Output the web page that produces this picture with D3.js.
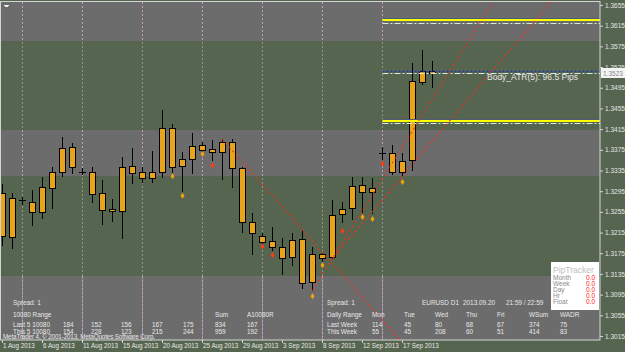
<!DOCTYPE html>
<html>
<head>
<meta charset="utf-8">
<script src="https://cdn.jsdelivr.net/npm/d3@7"></script>
<style>
  body { margin: 0; background: #56654f; }
  svg { display: block; }
  text { font-family: "Liberation Sans", Arial, sans-serif; }
</style>
</head>
<body>
<svg id="chart"></svg>
<script>
// EURUSD D1 bars, 1 Aug 2013 - 20 Sep 2013 (Sunday bars included)
var barDates = ['2013-08-01','2013-08-02','2013-08-04','2013-08-05','2013-08-06','2013-08-07','2013-08-08','2013-08-09',
  '2013-08-11','2013-08-12','2013-08-13','2013-08-14','2013-08-15','2013-08-16',
  '2013-08-18','2013-08-19','2013-08-20','2013-08-21','2013-08-22','2013-08-23',
  '2013-08-25','2013-08-26','2013-08-27','2013-08-28','2013-08-29','2013-08-30',
  '2013-09-01','2013-09-02','2013-09-03','2013-09-04','2013-09-05','2013-09-06',
  '2013-09-08','2013-09-09','2013-09-10','2013-09-11','2013-09-12','2013-09-13',
  '2013-09-15','2013-09-16','2013-09-17','2013-09-18','2013-09-19','2013-09-20'];
var opens  = [1.3291,1.3207,1.3278,1.3275,1.3255,1.3302,1.3333,1.3380,1.3333,1.3333,1.3291,1.3260,1.3256,1.3343,1.3333,1.3321,1.3333,1.3417,1.3344,1.3358,1.3375,1.3376,
              1.3371,1.3391,1.3339,1.3235,1.3208,1.3198,1.3187,1.3167,1.3202,1.3119,1.3173,1.3167,1.3250,1.3262,1.3306,1.3294,1.3369,1.3368,1.3333,1.3355,1.3507,1.3528];
var highs  = [1.3309,1.3292,1.3284,1.3297,1.3322,1.3342,1.3400,1.3389,1.3339,1.3341,1.3317,1.3279,1.3362,1.3378,1.3341,1.3373,1.3452,1.3425,1.3371,1.3408,1.3390,1.3394,
              1.3395,1.3396,1.3342,1.3252,1.3214,1.3226,1.3204,1.3215,1.3219,1.3187,1.3177,1.3278,1.3274,1.3323,1.3323,1.3320,1.3380,1.3384,1.3368,1.3542,1.3568,1.3547];
var lows   = [1.3190,1.3185,1.3270,1.3230,1.3244,1.3262,1.3325,1.3330,1.3328,1.3275,1.3231,1.3237,1.3204,1.3310,1.3313,1.3313,1.3322,1.3333,1.3296,1.3331,1.3371,1.3355,
              1.3319,1.3304,1.3217,1.3173,1.3193,1.3181,1.3135,1.3152,1.3107,1.3103,1.3160,1.3165,1.3236,1.3241,1.3255,1.3252,1.3357,1.3328,1.3326,1.3336,1.3502,1.3496];
var closes = [1.3208,1.3281,1.3277,1.3254,1.3304,1.3333,1.3378,1.3342,1.3332,1.3289,1.3259,1.3256,1.3342,1.3331,1.3320,1.3333,1.3417,1.3342,1.3357,1.3382,1.3385,1.3371,
              1.3390,1.3339,1.3235,1.3214,1.3197,1.3187,1.3165,1.3200,1.3117,1.3173,1.3166,1.3249,1.3261,1.3305,1.3294,1.3301,1.3368,1.3333,1.3354,1.3508,1.3527,1.3523];

// signal markers under bars ('a' = orange, 'b' = red)
var markerBars   = [17, 18, 20, 21, 26, 27, 31, 32, 34, 36, 37, 38, 40];
var markerPrices = [1.3324,1.3286,1.3367,1.3345,1.3188,1.3171,1.3092,1.3152,1.3218,1.3245,1.3241,1.3348,1.3313];
var markerKinds  = ['a','a','a','b','b','b','a','a','b','a','a','b','a'];

// grey range zones (price top / bottom)
var zoneTops    = [1.3661, 1.3413, 1.3131];
var zoneBottoms = [1.3585, 1.3324, 1.3007];

// price axis ticks
var priceTicks = [1.3655,1.3615,1.3575,1.3535,1.3495,1.3455,1.3415,1.3375,1.3335,1.3295,1.3255,1.3215,1.3175,1.3135,1.3095,1.3055,1.3015];
var dateTickBars = [0, 4, 8, 12, 16, 20, 24, 28, 32, 36, 40];
var dateTickLabels = ['1 Aug 2013','6 Aug 2013','11 Aug 2013','15 Aug 2013','20 Aug 2013','25 Aug 2013','29 Aug 2013','3 Sep 2013','8 Sep 2013','12 Sep 2013','17 Sep 2013'];

// weekly levels drawn from the start of the current week
var levelStartBar = 38;
var yellowLevels = [1.3626, 1.3431];
var dashDotLevels = [1.3620, 1.3523, 1.3426];
var blueLevels = [1.3527];
var bidPrice = 1.3523;
var atrText = 'Body_ATR(5): 96.5 Pips';

// red trendlines, [bar, price] -> [bar, price], extended as rays
var trendStarts = [[22, 1.3395], [31, 1.3103], [33, 1.3165]];
var trendEnds   = [[40, 1.3002], [43, 1.3474], [43, 1.3392]];

// info panel
var weekLast = ['184','152','156','167','175'];
var weekThis = ['154','228','123','215','244'];
var weekSum = ['834','959'];
var weekAvg = ['167','192'];
var dayHeads = ['Mon','Tue','Wed','Thu','Fri','WSum','WADR'];
var dayLast = ['114','45','80','68','67','374','75'];
var dayThis = ['55','45','208','60','51','414','83'];
var pipRows = ['Month','Week','Day','Hr','Float'];
var pipVals = ['0.0','0.0','0.0','0.0','0.0'];

var W = 625, H = 352;
var plot = { left: 1, top: 2, right: 600, bottom: 340 };
var FONT = '"Liberation Sans", Arial, sans-serif';

var svg = d3.select('#chart').attr('width', W).attr('height', H);

var x = d3.scaleLinear().domain([0, 43]).range([2.5, 432.5]);
var y = d3.scaleLinear().domain([1.3015, 1.3655]).range([336, 5]);
var py = function (p) { return Math.round(y(p)) + 0.5; };

svg.append('rect').attr('width', W).attr('height', H).attr('fill', '#56654f');

svg.append('clipPath').attr('id', 'plotClip')
  .append('rect').attr('x', plot.left).attr('y', plot.top)
  .attr('width', plot.right - plot.left).attr('height', plot.bottom - plot.top);

var g = svg.append('g').attr('clip-path', 'url(#plotClip)');

// grey zones
var zones = zoneTops.map(function (t, i) { return { top: t, bottom: zoneBottoms[i] }; });
g.selectAll('.zone').data(zones).enter().append('rect')
  .attr('x', plot.left).attr('width', plot.right - plot.left)
  .attr('y', function (d) { return Math.round(y(d.top)); })
  .attr('height', function (d) { return Math.round(y(d.bottom)) - Math.round(y(d.top)); })
  .attr('fill', '#6c6c6c');

// weekly separators on Sunday bars
var sundays = d3.range(barDates.length).filter(function (i) { return new Date(barDates[i] + 'T00:00:00Z').getUTCDay() === 0; });
g.selectAll('.sep').data(sundays).enter().append('line')
  .attr('x1', function (i) { return x(i); }).attr('x2', function (i) { return x(i); })
  .attr('y1', plot.top).attr('y2', plot.bottom)
  .attr('stroke', '#8e9289').attr('stroke-dasharray', '2,2');
sundays.forEach(function (i) {
  zones.forEach(function (z) {
    g.append('line')
      .attr('x1', x(i)).attr('x2', x(i))
      .attr('y1', Math.round(y(z.top))).attr('y2', Math.round(y(z.bottom)))
      .attr('stroke', '#c69ac6').attr('stroke-dasharray', '2,2');
  });
});

// candles
var bars = d3.range(barDates.length).map(function (i) {
  return { i: i, o: opens[i], h: highs[i], l: lows[i], c: closes[i] };
});
var candle = g.selectAll('.bar').data(bars).enter().append('g').attr('class', 'bar');
candle.append('line')
  .attr('x1', function (d) { return x(d.i); }).attr('x2', function (d) { return x(d.i); })
  .attr('y1', function (d) { return Math.round(y(d.h)); })
  .attr('y2', function (d) { return Math.round(y(d.l)) + 1; })
  .attr('stroke', '#000');
candle.each(function (d) {
  var top = Math.round(y(Math.max(d.o, d.c)));
  var bot = Math.round(y(Math.min(d.o, d.c)));
  var sel = d3.select(this);
  if (bot - top < 2) {
    sel.append('line')
      .attr('x1', x(d.i) - 3.5).attr('x2', x(d.i) + 3.5)
      .attr('y1', top + 0.5).attr('y2', top + 0.5)
      .attr('stroke', '#000');
  } else {
    sel.append('rect')
      .attr('x', x(d.i) - 3).attr('width', 6)
      .attr('y', top + 0.5).attr('height', bot - top)
      .attr('fill', '#e8a51c').attr('stroke', '#000');
  }
});

// levels
var lx0 = x(levelStartBar);
yellowLevels.forEach(function (p) {
  g.append('line').attr('x1', lx0).attr('x2', plot.right)
    .attr('y1', py(p) - 2).attr('y2', py(p) - 2).attr('stroke', '#4e5a7c');
  g.append('line').attr('x1', lx0).attr('x2', plot.right)
    .attr('y1', py(p) - 0.5).attr('y2', py(p) - 0.5).attr('stroke', '#ffff00').attr('stroke-width', 2);
});
blueLevels.forEach(function (p) {
  g.append('line').attr('x1', lx0).attr('x2', plot.right)
    .attr('y1', py(p)).attr('y2', py(p))
    .attr('stroke', '#2838b0').attr('stroke-width', 1.5).attr('stroke-dasharray', '2,2');
});
dashDotLevels.forEach(function (p) {
  g.append('line').attr('x1', lx0).attr('x2', plot.right)
    .attr('y1', py(p)).attr('y2', py(p))
    .attr('stroke', '#d6ead6').attr('stroke-dasharray', '6,2,2,2');
});

// trendlines as rays
trendStarts.forEach(function (s, k) {
  var e = trendEnds[k];
  var x1 = x(s[0]), y1 = y(s[1]), x2 = x(e[0]), y2 = y(e[1]);
  var t = 8;
  g.append('line')
    .attr('x1', x1).attr('y1', y1)
    .attr('x2', x1 + (x2 - x1) * t).attr('y2', y1 + (y2 - y1) * t)
    .attr('stroke', '#ff2a1a').attr('stroke-width', 1.1).attr('stroke-dasharray', '2,3');
});

// markers
g.selectAll('.mk').data(markerBars).enter().append('path')
  .attr('d', function (b, i) {
    var cx = x(b), cy = y(markerPrices[i]);
    return 'M' + cx + ',' + (cy - 3) + 'L' + (cx + 2) + ',' + cy + 'L' + cx + ',' + (cy + 3) + 'L' + (cx - 2) + ',' + cy + 'Z';
  })
  .attr('fill', function (b, i) { return markerKinds[i] === 'a' ? '#f2a20c' : '#ff3d10'; });

// ATR label
g.append('text').attr('x', 487).attr('y', py(bidPrice) + 6)
  .attr('font-size', 8.5).attr('fill', '#e6e6e6').text(atrText);

// frame
svg.append('rect').attr('x', 0.5).attr('y', 1.5)
  .attr('width', plot.right - 0.5).attr('height', plot.bottom - 1.5)
  .attr('fill', 'none').attr('stroke', '#d4d4d4');

// price axis
var yAxis = svg.append('g').attr('transform', 'translate(' + plot.right + ',0)')
  .call(d3.axisRight(y).tickValues(priceTicks).tickFormat(d3.format('.4f')).tickSize(3).tickPadding(2));
yAxis.select('.domain').remove();
yAxis.selectAll('line').attr('stroke', '#d4d4d4');
yAxis.selectAll('text').attr('fill', '#e6e6e6').attr('font-size', 6.5).attr('font-family', FONT);

// bid label
svg.append('rect').attr('x', 601).attr('y', Math.round(y(bidPrice)) - 5).attr('width', 24).attr('height', 10).attr('fill', '#f4f4f4');
svg.append('text').attr('x', 603).attr('y', Math.round(y(bidPrice)) + 2.5)
  .attr('font-size', 6.5).attr('fill', '#8a8a8a').text(d3.format('.4f')(bidPrice));

// date axis
var xAxis = svg.append('g').attr('transform', 'translate(0,' + plot.bottom + ')')
  .call(d3.axisBottom(x).tickValues(dateTickBars).tickFormat(function (d, i) { return dateTickLabels[i]; }).tickSize(3).tickPadding(1));
xAxis.select('.domain').remove();
xAxis.selectAll('.tick line').attr('stroke', '#d4d4d4').attr('transform', 'translate(-0.5,0)');
xAxis.selectAll('text').attr('fill', '#e6e6e6').attr('font-size', 6.3).attr('text-anchor', 'start')
  .attr('x', 0).attr('y', 4).attr('dy', '0.71em').attr('font-family', FONT);

// top-left icon
svg.append('path').attr('d', 'M4,5h5v1h-1v1h-3v-1h-1z').attr('fill', '#f0f0f0');

// info panel
var info = svg.append('g').attr('font-size', 6.4).attr('fill', '#e8e8e8');
function txt(xp, yp, s) { info.append('text').attr('x', xp).attr('y', yp).text(s); }
var rowY = [305, 316.5, 326.5, 333.5];
var wkX = [63, 91, 121, 152, 183];
txt(13, rowY[0], 'Spread: 1');
txt(13, rowY[1], '10080 Range');
txt(13, rowY[2], 'Last 5 10080');
txt(13, rowY[3], 'This 5 10080');
weekLast.forEach(function (s, i) { txt(wkX[i], rowY[2], s); });
weekThis.forEach(function (s, i) { txt(wkX[i], rowY[3], s); });
txt(215, rowY[1], 'Sum'); txt(247, rowY[1], 'A10080R');
txt(215, rowY[2], weekSum[0]); txt(247, rowY[2], weekAvg[0]);
txt(215, rowY[3], weekSum[1]); txt(247, rowY[3], weekAvg[1]);
txt(327, rowY[0], 'Spread: 1');
txt(327, rowY[1], 'Daily Range');
txt(327, rowY[2], 'Last Week');
txt(327, rowY[3], 'This Week');
var dX = [372, 404, 435, 466, 497, 529, 560];
dayHeads.forEach(function (s, i) { txt(dX[i], rowY[1], s); });
dayLast.forEach(function (s, i) { txt(dX[i], rowY[2], s); });
dayThis.forEach(function (s, i) { txt(dX[i], rowY[3], s); });
txt(422, rowY[0], 'EURUSD D1');
txt(463, rowY[0], '2013.09.20');
txt(506, rowY[0], '21:59 / 22:59');
info.append('text').attr('x', 3).attr('y', 339).attr('font-size', 6.3)
  .attr('textLength', 152).text('MetaTrader 4, \u00a9 2001-2013, MetaQuotes Software Corp.');

// PipTracker box
var pt = svg.append('g');
pt.append('rect').attr('x', 551).attr('y', 262).attr('width', 48).attr('height', 48).attr('fill', '#ffffff');
pt.append('text').attr('x', 553).attr('y', 272.5).attr('font-size', 8.5).attr('fill', '#bdbdbd').text('PipTracker');
pipRows.forEach(function (s, i) {
  pt.append('text').attr('x', 553).attr('y', 279.5 + i * 6.2).attr('font-size', 6.5).attr('fill', '#8a8a8a').text(s);
  pt.append('text').attr('x', 586).attr('y', 279.5 + i * 6.2).attr('font-size', 6.5).attr('fill', '#ff2020').text(pipVals[i]);
});
</script>
</body>
</html>
